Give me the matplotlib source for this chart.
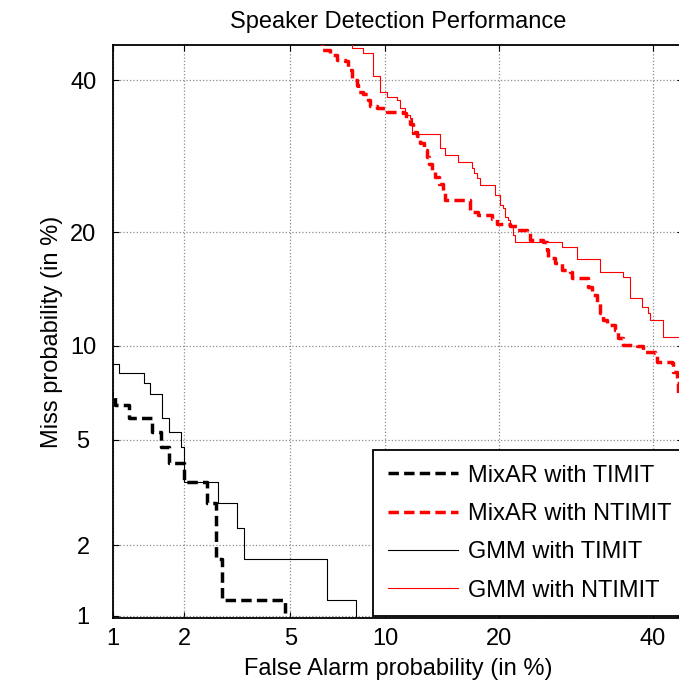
import math
from statistics import NormalDist
import numpy as np
import matplotlib
matplotlib.use("Agg")
import matplotlib.pyplot as plt
from matplotlib.ticker import FixedLocator, FixedFormatter, NullLocator

plt.rcParams['font.family'] = ['Liberation Sans', 'DejaVu Sans']

# ---------------- data (percent) ----------------
title = "Speaker Detection Performance"
xlabel = "False Alarm probability (in %)"
ylabel = "Miss probability (in %)"
tick_values = [1, 2, 5, 10, 20, 40]
tick_labels = ["1", "2", "5", "10", "20", "40"]

mixar_timit_pfa = [0.9, 1.02, 1.18, 1.48, 1.61, 1.74, 2.0, 2.47, 2.68, 2.82, 4.79]
mixar_timit_pmiss = [7.10, 6.54, 5.92, 5.31, 4.71, 4.13, 3.52, 2.94, 1.76, 1.17, 0.9]

mixar_ntimit_pfa = [6.10, 6.39, 6.78, 7.14, 7.57, 7.74, 7.96, 8.25, 8.31, 8.61,
                    8.91, 9.04, 9.48, 10.14, 11.28, 11.50, 11.80, 12.03, 12.34, 12.58,
                    12.90, 13.14, 13.31, 13.55, 13.81, 14.15, 14.50, 14.67, 16.99, 17.79,
                    19.23, 19.75, 21.16, 21.95, 23.10, 23.45, 25.01, 25.50, 25.62, 26.50,
                    27.40, 28.43, 28.69, 30.80, 31.35, 32.03, 32.45, 32.86, 33.42, 34.55,
                    34.98, 35.68, 37.72, 38.59, 40.36, 40.66, 42.90, 43.06, 43.66, 43.81,
                    46.0]
mixar_ntimit_pmiss = [46.0, 44.56, 43.78, 43.02, 42.86, 41.50, 40.00, 39.26, 38.21, 37.93,
                      37.05, 36.18, 35.89, 35.31, 35.17, 34.30, 33.58, 32.47, 31.92, 30.95,
                      30.01, 29.07, 28.15, 27.38, 26.48, 25.60, 24.49, 23.65, 22.24, 21.90,
                      21.44, 20.88, 20.66, 20.22, 20.00, 19.15, 18.94, 18.11, 17.31, 16.82,
                      16.15, 15.96, 15.40, 14.59, 13.89, 13.22, 12.40, 11.86, 11.48, 11.11,
                      10.53, 10.05, 9.98, 9.58, 9.51, 8.93, 8.87, 8.34, 7.70, 6.94,
                      6.50]

gmm_timit_pfa = [0.9, 1.06, 1.37, 1.45, 1.63, 1.74, 1.95, 2.0, 2.72, 3.22, 3.42, 6.63, 8.19]
gmm_timit_pmiss = [8.81, 8.28, 7.69, 7.10, 5.92, 5.31, 4.71, 3.52, 2.94, 2.35, 1.76, 1.17, 0.9]

gmm_ntimit_pfa = [7.91, 7.96, 8.61, 9.23, 9.67, 10.14, 10.84, 11.06, 11.42, 11.80,
                  11.96, 14.24, 14.67, 15.86, 17.19, 17.35, 17.69, 17.99, 19.54, 20.07,
                  20.39, 20.61, 20.94, 21.16, 21.50, 21.73, 27.39, 29.34, 32.45, 35.68,
                  36.70, 38.44, 39.32, 39.62, 41.55, 46.0]
gmm_ntimit_pmiss = [45.5, 44.85, 44.09, 40.60, 38.22, 37.49, 37.05, 35.89, 34.88, 34.45,
                    32.19, 30.27, 29.33, 28.42, 27.64, 26.98, 26.35, 25.47, 24.25, 23.06,
                    22.70, 21.67, 21.30, 20.55, 19.68, 18.94, 18.41, 17.21, 15.96, 15.50,
                    13.63, 12.87, 12.40, 11.86, 10.60, 10.60]

series_labels = ["MixAR with TIMIT", "MixAR with NTIMIT", "GMM with TIMIT", "GMM with NTIMIT"]

# ---------------- normal-deviate (DET) scale ----------------
_nd = NormalDist()
_inv = np.vectorize(lambda p: _nd.inv_cdf(p), otypes=[float])
_cdf = np.vectorize(lambda z: 0.5 * (1.0 + math.erf(z / math.sqrt(2.0))), otypes=[float])


def fwd(p):
    p = np.clip(np.asarray(p, dtype=float) / 100.0, 1e-9, 1 - 1e-9)
    if p.size == 0:
        return p
    return _inv(p)


def inv(z):
    z = np.asarray(z, dtype=float)
    if z.size == 0:
        return z
    return 100.0 * _cdf(z)


W, H = 679, 687
fig = plt.figure(figsize=(W / 100, H / 100), dpi=100)
left_px, right_px, top_px, bottom_px = 113, 683, 45, 618.3
ax = fig.add_axes([left_px / W, 1 - bottom_px / H, (right_px - left_px) / W, (bottom_px - top_px) / H])
ax.set_xscale('function', functions=(fwd, inv))
ax.set_yscale('function', functions=(fwd, inv))

FS = 17
dash = (0, (3.0, 1.5))
ax.plot(mixar_timit_pfa, mixar_timit_pmiss, color='black', lw=2.5, linestyle=dash,
        drawstyle='steps-post', dash_capstyle='butt', label=series_labels[0], zorder=3)
ax.plot(mixar_ntimit_pfa, mixar_ntimit_pmiss, color='red', lw=2.5, linestyle=dash,
        drawstyle='steps-post', dash_capstyle='butt', label=series_labels[1], zorder=3)
ax.plot(gmm_timit_pfa, gmm_timit_pmiss, color='black', lw=0.8,
        drawstyle='steps-post', label=series_labels[2], zorder=3)
ax.plot(gmm_ntimit_pfa, gmm_ntimit_pmiss, color='red', lw=0.8,
        drawstyle='steps-post', label=series_labels[3], zorder=3)

ax.set_xlim(1.0, 44.57)
ax.set_ylim(0.973, 45.31)

for axis in (ax.xaxis, ax.yaxis):
    axis.set_major_locator(FixedLocator(tick_values))
    axis.set_major_formatter(FixedFormatter(tick_labels))
    axis.set_minor_locator(NullLocator())

ax.grid(True, which='major', linestyle=':', color='#8c8c8c', linewidth=0.9)
ax.tick_params(axis='both', which='major', direction='in', length=4, width=0.8,
               top=True, right=True, labelsize=FS)
ax.tick_params(axis='x', pad=7)
ax.tick_params(axis='y', pad=21.5)
for lab in ax.get_yticklabels():
    lab.set_horizontalalignment('center')

for s in ax.spines.values():
    s.set_linewidth(1.3)

ax.set_title(title, fontsize=FS, pad=12)
ax.set_xlabel(xlabel, fontsize=FS, labelpad=6)
ax.set_ylabel(ylabel, fontsize=FS, labelpad=5)

leg = ax.legend(loc='upper left', bbox_to_anchor=(373 / W, 1 - 450 / H),
                bbox_transform=fig.transFigure, borderaxespad=0, fontsize=FS,
                fancybox=False, framealpha=1, edgecolor='black', handlelength=3.0,
                handletextpad=0.42, borderpad=0.62, labelspacing=0.69)
leg.get_frame().set_linewidth(1.3)

fig.savefig("out.png", dpi=100)
